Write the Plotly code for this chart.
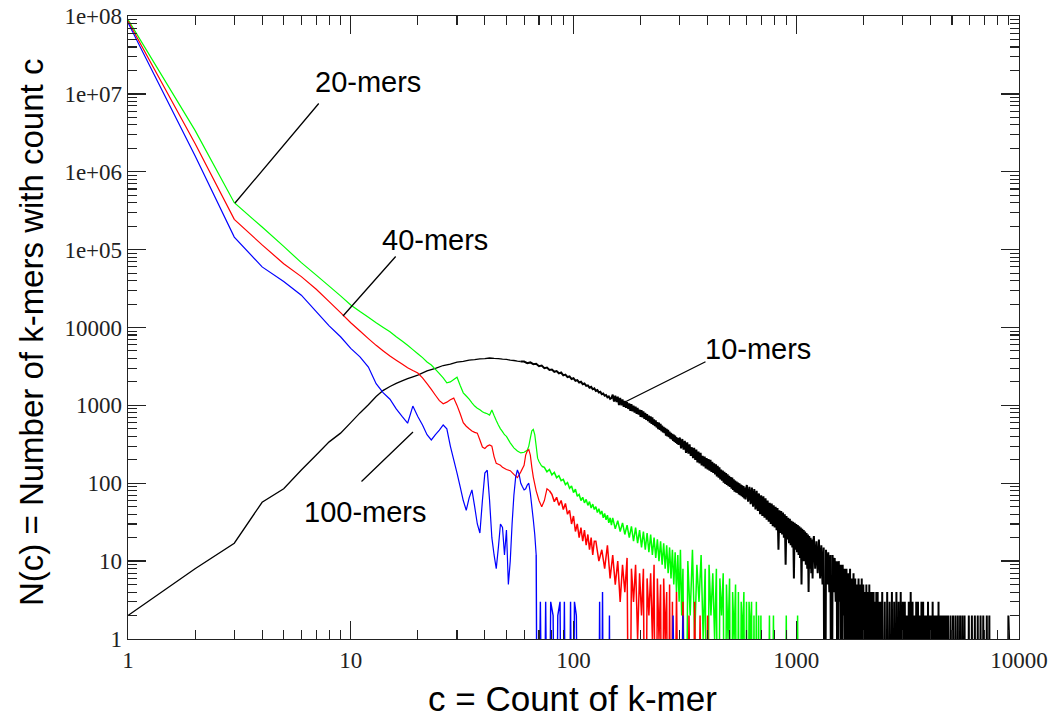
import plotly.graph_objects as go

# ------------------------------------------------------------------
# DATA  (c = count of k-mer, N(c) = number of k-mers with that count)
# ------------------------------------------------------------------
# 10-mers (black)
c_10 = [1, 2, 3, 4, 5, 6, 7, 8, 9, 10, 11, 12, 13, 14, 15, 16, 17, 18, 19, 20,
        22, 24, 26, 28, 30, 32, 34, 36, 38, 40, 42, 44, 46, 48, 50, 52, 54, 56, 58]
n_10 = [2, 8, 17, 57, 85, 148, 230, 340, 440, 600,
        800, 1020, 1300, 1560, 1750, 1920, 2060, 2200, 2330, 2450,
        2780, 2980, 3250, 3380, 3600, 3680, 3820, 3870, 3960, 3990,
        4060, 4010, 3990, 3920, 3890, 3810, 3770, 3690, 3660]
# noisy tail: (first bin, bin step, counts)
tail_10 = [
    (60, 2, [3650, 3480, 3560, 3380, 3420, 3180, 3250, 3010, 3060, 2850,
             2880, 2700, 2760, 2580, 2640, 2430, 2480, 2310, 2350, 2180,
             2230, 2070, 2110, 1970, 2010, 1870, 1910, 1780, 1810, 1690,
             1730, 1610, 1650, 1530, 1570, 1460, 1490, 1390, 1420, 1330,
             1360, 1270, 1300, 1210, 1240]),
    (150, 2, [1370, 1120, 1330, 1100, 1290, 1010, 1250, 1000, 1190, 960,
              1140, 930, 1100, 900, 1060, 850, 1040, 840, 990, 810,
              960, 780, 930, 760, 880, 710, 870, 700, 840, 670,
              800, 650, 770, 630, 740, 600, 720, 580, 700, 560,
              660, 540, 640, 520, 610, 495, 600, 485, 580, 465,
              550, 450, 530, 440, 515, 410, 500, 400, 485, 390,
              460, 375, 445, 365, 430, 350, 420, 340, 410, 330,
              390, 320, 380, 310, 365]),
    (300, 4, [385, 280, 370, 270, 350, 245, 335, 240, 315, 225,
              290, 210, 285, 200, 270, 185, 255, 180, 245, 170,
              225, 165, 220, 155, 210, 150, 205, 145, 200, 140,
              188, 136, 180, 130, 175, 122, 168, 118, 160, 112,
              150, 108, 145, 102, 140, 98, 135, 95, 130, 92,
              125, 90, 120, 85, 118, 82, 112, 78, 108, 76,
              105, 75, 102, 72, 100, 70, 96, 68, 94, 66,
              92, 64, 88, 62, 86]),
    (600, 8, [95, 58, 90, 54, 88, 50, 84, 46, 80, 44,
              74, 40, 70, 38, 68, 36, 64, 34, 60, 32,
              56, 30, 55, 28, 52, 27, 50, 25, 48, 14,
              45, 23, 44, 22, 42, 20, 40, 9, 38, 19,
              36, 17, 35, 16, 33, 15, 32, 6, 31, 14,
              30, 13, 29, 12, 28, 11, 27, 5, 26, 10,
              25, 10, 24, 9, 23, 8, 22, 4, 21, 8,
              20, 7, 19, 6, 18]),
    (1200, 16, [21, 8, 18, 7, 19, 6, 16, 5, 15, 0,
                14, 5, 13, 4, 12, 0, 12, 4, 11, 3,
                10, 0, 10, 3, 9, 0, 9, 2, 8, 0,
                8, 1, 7, 0, 8, 0, 6, 1, 7, 0,
                6, 0, 5, 1, 6, 0, 5, 0, 6, 0,
                5, 1, 4, 0, 5, 0, 4, 0, 5, 0,
                4, 0, 4, 1, 4, 0, 3, 0, 4, 0,
                4, 0, 3, 0, 3]),
    (2400, 32, [0, 4, 0, 3, 0, 4, 0, 3, 0, 4,
                0, 3, 0, 4, 0, 3, 0, 4, 0, 3,
                0, 3, 0, 2, 0, 3, 0, 4, 0, 3,
                0, 2, 0, 3, 0, 3, 0, 2, 0, 3,
                0, 3, 0, 2, 0, 2, 0, 3, 0, 2,
                0, 2, 0, 3, 0, 2, 0, 2, 0, 2,
                0, 3, 0, 2, 0, 2, 0, 2, 0, 2,
                0, 2, 0, 2, 0]),
    (4800, 64, [2, 0, 2, 0, 2, 0, 2, 0, 2, 0,
                2, 0, 2, 0, 2, 0, 0, 0, 2, 0,
                0, 2, 0, 0, 2, 0, 0, 2, 0, 0,
                2, 0, 0, 2, 0, 0, 0, 2, 0, 0,
                2, 0, 0, 0, 0, 0, 0, 0, 0, 0,
                0, 0, 0, 0, 0, 0, 0, 0, 0, 0,
                0, 0, 0, 0, 0, 2, 1, 0, 0, 0,
                0, 0, 0, 0, 0]),
]

# 20-mers (green)
c_20 = [1, 2, 3, 4, 5, 6, 7, 8, 9, 10, 11, 12, 13, 14, 15, 16, 17, 18, 19, 20,
        21, 22, 23, 24, 25, 26, 27, 28, 29, 30, 31, 32, 33, 34, 35, 36, 37, 38, 39, 40,
        41, 42, 43, 44, 45, 46, 47, 48, 49, 50, 52, 54, 56, 58, 60, 62,
        63, 64, 65, 66, 67, 68, 69, 70, 72]
n_20 = [9.0e7, 3.4e6, 4.0e5, 1.95e5, 1.1e5, 6.8e4, 4.7e4, 3.4e4, 2.55e4, 1.95e4,
        1.6e4, 1.35e4, 1.15e4, 1.0e4, 8.8e3, 7.6e3, 6.7e3, 5.9e3, 5.2e3, 4.6e3,
        4.1e3, 3.6e3, 3.3e3, 2.9e3, 2.55e3, 2.25e3, 1.95e3, 2.0e3, 2.15e3, 2.3e3,
        1.8e3, 1.45e3, 1.32e3, 1.2e3, 1.08e3, 980, 920, 880, 830, 800,
        780, 750, 870, 740, 640, 560, 500, 460, 420, 400, 330, 285, 260, 245, 250, 265,
        300, 380, 470, 490, 420, 300, 210, 190, 165]
tail_20 = [
    (74, 2, [160, 140, 150, 128, 138, 118, 125, 108, 112, 96,
             102, 86, 92, 76, 84, 68, 72, 60, 66, 56,
             62, 52, 58, 48, 54, 46, 50, 42, 47, 40,
             44, 36, 41, 34, 39, 31, 36, 29]),
    (150, 4, [36, 26, 33, 24, 31, 22, 29, 20, 28, 18,
              27, 17, 25, 15, 24, 14, 23, 13, 22, 12,
              20, 11, 19, 10, 18, 9, 17, 8, 16, 7,
              15, 6, 14, 5, 13, 4, 12, 3, 14, 2]),
    (310, 8, [8, 0, 10, 2, 14, 1, 9, 3, 12, 1,
              8, 0, 9, 2, 7, 1, 8, 0, 6, 2,
              7, 0, 5, 1, 6, 0, 4, 1, 5, 0,
              4, 0, 3, 1, 4, 0, 3, 0, 3, 1,
              3, 0, 2, 0, 3, 0, 2, 0, 2, 0]),
    (710, 16, [0, 0, 0, 2, 0, 2, 0, 0, 0, 0,
               0, 0, 2, 0, 0, 0, 0, 0, 0, 2,
               0, 0, 0, 0, 0]),
]

# 40-mers (red)
c_40 = [1, 2, 3, 4, 5, 6, 7, 8, 9, 10, 11, 12, 13, 14, 15, 16, 17, 18, 19, 20,
        21, 22, 23, 24, 25, 26, 27, 28, 29, 30, 31, 32, 33, 34, 35, 36, 37, 38, 39, 40,
        41, 42, 43, 44, 45, 46, 47, 48, 50, 52, 54, 56, 58, 60,
        61, 62, 63, 64, 65, 66, 68, 70, 72, 74, 76, 78]
n_40 = [8.6e7, 2.3e6, 2.45e5, 1.15e5, 6.6e4, 4.5e4, 3.1e4, 2.15e4, 1.55e4, 1.15e4,
        9.0e3, 7.2e3, 5.9e3, 5.0e3, 4.3e3, 3.8e3, 3.4e3, 3.05e3, 2.8e3, 2.6e3,
        2.25e3, 1.9e3, 1.6e3, 1.35e3, 1.15e3, 1.05e3, 1.1e3, 1.18e3, 1.24e3, 1.0e3,
        780, 600, 540, 500, 470, 450, 440, 360, 292, 280,
        300, 310, 300, 220, 180, 175, 170, 160, 150, 145, 130, 118, 140, 170,
        230, 260, 270, 230, 160, 120, 80, 60, 50, 60, 85, 80]
tail_40 = [
    (80, 2, [72, 58, 66, 52, 60, 46, 55, 40, 45, 30,
             38, 24, 30, 20, 27, 18, 25, 16, 22, 14,
             20, 12, 18]),
    (126, 4, [18, 10, 14, 8, 16, 6, 12, 5, 10, 3,
              9, 4, 11, 0, 8, 3, 9, 1, 7, 2,
              8, 0, 6, 2, 7, 1, 9, 0, 6, 1,
              5, 0, 6, 1, 4, 0, 5, 0, 3, 0]),
    (290, 10, [4, 0, 3, 0, 2, 0, 3, 0, 2, 0, 0, 2, 0, 0]),
]

# 100-mers (blue)
c_100 = list(range(1, 69))
n_100 = [8.2e7, 1.6e6, 1.45e5, 6.0e4, 3.9e4, 2.6e4, 1.6e4, 1.05e4, 7.6e3, 5.4e3,
         4.2e3, 3.1e3, 1.9e3, 1.45e3, 1.2e3, 900, 720, 590, 980, 720,
         560, 420, 360, 420, 480, 560, 500, 300, 200, 135,
         90, 60, 45, 65, 82, 50, 30, 23, 60, 135,
         147, 60, 20, 12, 8, 15, 30, 27, 12, 25,
         5, 10, 30, 70, 120, 148, 130, 100, 90, 82,
         85, 95, 100, 75, 50, 34, 22, 12]
tail_100 = [
    (69, 2, [0, 3, 0, 3, 0, 3, 2, 0, 2, 3,
             0, 3, 0, 0, 3, 0, 3, 2, 0, 0,
             0, 0, 0, 0, 0, 0, 0, 0, 0, 0,
             0, 3, 0, 4, 0, 0, 0, 0, 2, 0]),
    (150, 10, [0, 0, 0, 0, 0, 0, 0, 0, 0, 0,
               0, 0, 0, 2, 0, 0, 2, 0, 0, 0]),
]

x_ticks = [1, 10, 100, 1000, 10000]
x_tick_text = ["1", "10", "100", "1000", "10000"]
y_ticks = [1, 10, 100, 1000, 1e4, 1e5, 1e6, 1e7, 1e8]
y_tick_text = ["1", "10", "100", "1000", "10000", "1e+05", "1e+06", "1e+07", "1e+08"]

# name, body bins, body counts, tail, colour, body width, tail width
series = [
    ("10-mers", c_10, n_10, tail_10, "#000000", 1.3, 2.0),
    ("20-mers", c_20, n_20, tail_20, "#00ff00", 1.2, 1.5),
    ("40-mers", c_40, n_40, tail_40, "#ff0000", 1.2, 1.5),
    ("100-mers", c_100, n_100, tail_100, "#0000ff", 1.2, 1.4),
]

# ------------------------------------------------------------------
def safe(vals):
    # zero counts cannot sit on a log axis: send them below the frame
    return [v if v > 0 else 1e-3 for v in vals]


def expand_tail(c, n, tail):
    xs, ys = [c[-1]], [n[-1]]
    for start, step, vals in tail:
        for i, v in enumerate(vals):
            xs.append(start + step * i)
            ys.append(v)
    return xs, safe(ys)


fig = go.Figure()
for name, c, n, tail, col, lw_body, lw_tail in series:
    fig.add_trace(go.Scatter(x=list(c), y=safe(n), mode="lines", name=name,
                             line=dict(color=col, width=lw_body, simplify=False),
                             hoverinfo="skip"))
    tx, ty = expand_tail(c, n, tail)
    fig.add_trace(go.Scatter(x=tx, y=ty, mode="lines", name=name,
                             line=dict(color=col, width=lw_tail, simplify=False),
                             hoverinfo="skip"))

# page geometry (body margin removed by post_script below)
W, H = 1056, 719
PL, PT, PR, PB = 128, 16, 1019, 639        # plot frame in page pixels
L, T, R, B = PL, PT, W - PR, H - PB
PW, PH = PR - PL, PB - PT


def px(xp, yp):
    return (xp - PL) / PW, (PB - yp) / PH


minor_x = [m * 10 ** k for k in range(4) for m in range(2, 10)]
minor_y = [m * 10 ** k for k in range(8) for m in range(2, 10)]

axis_common = dict(
    type="log", showgrid=False, zeroline=False, showline=True,
    linecolor="#222222", linewidth=1.3, mirror="allticks",
    ticks="inside", ticklen=18, tickwidth=1.3, tickcolor="#222222",
    ticklabeloverflow="allow",
    tickfont=dict(family="Liberation Serif", size=23, color="#222222"),
)
fig.update_xaxes(range=[0, 4], tickvals=x_ticks, ticktext=x_tick_text,
                 minor=dict(tickvals=minor_x, ticks="inside", ticklen=9,
                            tickwidth=1.1, tickcolor="#222222", showgrid=False),
                 **axis_common)
fig.update_yaxes(range=[0, 8], tickvals=y_ticks, ticktext=y_tick_text,
                 minor=dict(tickvals=minor_y, ticks="inside", ticklen=9,
                            tickwidth=1.1, tickcolor="#222222", showgrid=False),
                 **axis_common)

annotations = []
# series labels
for text, xp, yp in [("20-mers", 368, 82), ("40-mers", 435, 240),
                     ("10-mers", 758, 349), ("100-mers", 365, 512)]:
    ax_, ay_ = px(xp, yp)
    annotations.append(dict(text=text, x=ax_, y=ay_, xref="paper", yref="paper",
                            xanchor="center", yanchor="middle", showarrow=False,
                            font=dict(family="Liberation Sans", size=29, color="black")))
# pointer lines (head, tail) in page pixels
for (hx, hy), (tx, ty) in [((235, 203), (320, 102)), ((343, 316), (397, 255)),
                           ((621, 404), (707, 361)), ((413, 432), (360, 483))]:
    hxp, hyp = px(hx, hy)
    annotations.append(dict(text="", x=hxp, y=hyp, xref="paper", yref="paper",
                            showarrow=True, arrowhead=0, arrowwidth=1.3,
                            arrowcolor="black", ax=tx - hx, ay=ty - hy,
                            standoff=0, startstandoff=0))
# axis titles
tx_, ty_ = px(572, 698)
annotations.append(dict(text="c = Count of k-mer", x=tx_, y=ty_, xref="paper", yref="paper",
                        xanchor="center", yanchor="middle", showarrow=False,
                        font=dict(family="Liberation Sans", size=35, color="black")))
tx_, ty_ = px(31, 333)
annotations.append(dict(text="N(c) = Number of k-mers with count c", x=tx_, y=ty_,
                        xref="paper", yref="paper", textangle=-90,
                        xanchor="center", yanchor="middle", showarrow=False,
                        font=dict(family="Liberation Sans", size=33, color="black")))

fig.update_layout(width=W, height=H, margin=dict(l=L, r=R, t=T, b=B, autoexpand=False),
                  paper_bgcolor="white", plot_bgcolor="white", hovermode=False,
                  showlegend=False, annotations=annotations)

fig.write_html("out.html", config={"displayModeBar": False, "staticPlot": True},
               post_script="document.body.style.margin='0px';document.body.style.overflow='hidden';")
